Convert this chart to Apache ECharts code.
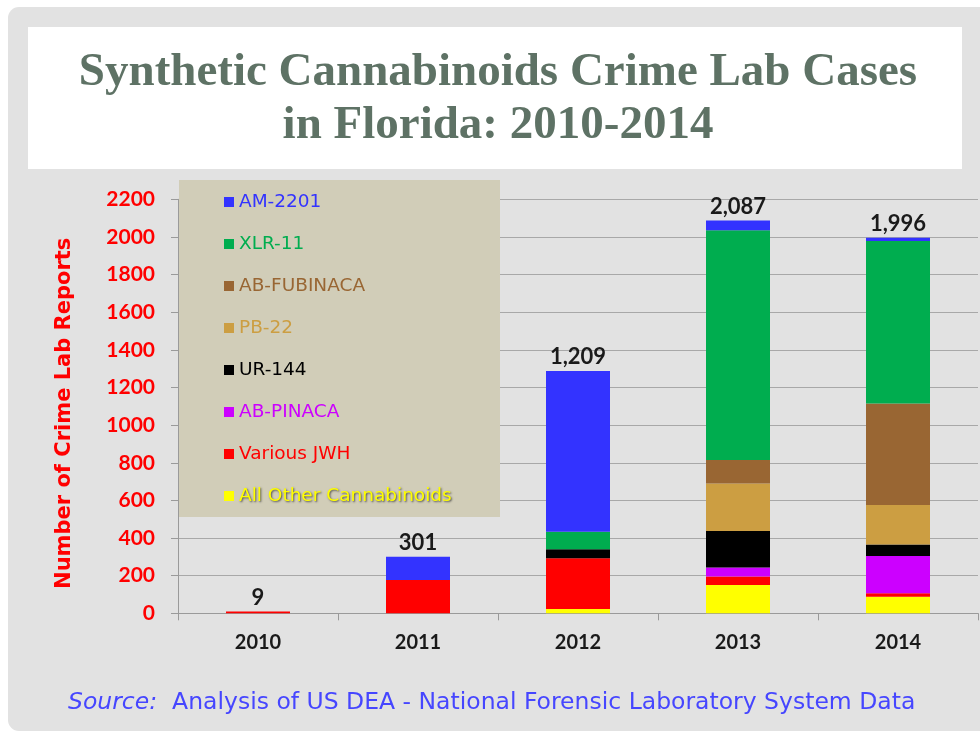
<!DOCTYPE html>
<html>
<head>
<meta charset="utf-8">
<script src="https://cdn.jsdelivr.net/npm/echarts@6/dist/echarts.min.js"></script>
<style>
html,body{margin:0;padding:0;background:#ffffff;}
#chart{width:980px;height:734px;}
</style>
</head>
<body>
<div id="chart"></div>
<script>
var years = ['2010', '2011', '2012', '2013', '2014'];
var allOther   = [0, 0, 23, 150, 88];
var variousJWH = [9, 177, 269, 45, 18];
var abPinaca   = [0, 0, 0, 49, 198];
var ur144      = [0, 0, 48, 193, 62];
var pb22       = [0, 0, 0, 253, 209];
var abFubinaca = [0, 0, 0, 124, 540];
var xlr11      = [0, 0, 94, 1222, 863];
var am2201     = [0, 124, 854, 51, 18];
var totalLabels = [9, 301, 1209, 2087, 1996];
var yTicks = [0, 200, 400, 600, 800, 1000, 1200, 1400, 1600, 1800, 2000, 2200];

var seriesDefs = [
  {name: 'All Other Cannabinoids', data: allOther, color: '#ffff00'},
  {name: 'Various JWH', data: variousJWH, color: '#ff0000'},
  {name: 'AB-PINACA', data: abPinaca, color: '#cc00ff'},
  {name: 'UR-144', data: ur144, color: '#000000'},
  {name: 'PB-22', data: pb22, color: '#cc9e42'},
  {name: 'AB-FUBINACA', data: abFubinaca, color: '#996633'},
  {name: 'XLR-11', data: xlr11, color: '#00ad4f'},
  {name: 'AM-2201', data: am2201, color: '#3333ff'}
];

function fmt(n) { return String(n).replace(/\B(?=(\d{3})+(?!\d))/g, ','); }

var series = seriesDefs.map(function (d, i) {
  var s = {
    name: d.name,
    type: 'bar',
    stack: 'total',
    barWidth: '40%',
    data: d.data,
    itemStyle: {color: d.color},
    emphasis: {disabled: true}
  };
  if (i === seriesDefs.length - 1) {
    s.label = {
      show: true,
      position: 'top',
      distance: 3,
      color: '#1a1a1a',
      fontFamily: 'Lato',
      fontWeight: 'bold',
      fontSize: 22,
      formatter: function (p) { return fmt(totalLabels[p.dataIndex]); }
    };
  }
  return s;
});

var legendData = seriesDefs.slice().reverse().map(function (d) {
  var ts = {color: d.color};
  if (d.name === 'All Other Cannabinoids') {
    ts.textShadowColor = 'rgba(60,60,60,0.9)';
    ts.textShadowBlur = 2;
    ts.textShadowOffsetX = 1;
    ts.textShadowOffsetY = 1;
  }
  return {name: d.name, textStyle: ts};
});

var chart = echarts.init(document.getElementById('chart'));
chart.setOption({
  animation: false,
  backgroundColor: '#ffffff',
  graphic: [
    {type: 'rect', z: -10, shape: {x: 8, y: 7, width: 1000, height: 724, r: 11}, style: {fill: '#e2e2e2'}},
    {type: 'rect', z: -9, shape: {x: 28, y: 27, width: 934, height: 142}, style: {fill: '#ffffff'}},
    {type: 'text', z: -8, style: {text: 'Synthetic Cannabinoids Crime Lab Cases', x: 498, y: 73, textAlign: 'center', textVerticalAlign: 'middle', fontFamily: 'Liberation Serif', fontWeight: 'bold', fontSize: 47, fill: '#5e7265'}},
    {type: 'text', z: -8, style: {text: 'in Florida: 2010-2014', x: 498, y: 126, textAlign: 'center', textVerticalAlign: 'middle', fontFamily: 'Liberation Serif', fontWeight: 'bold', fontSize: 47, fill: '#5e7265'}},
    {type: 'rect', z: 1, shape: {x: 179, y: 180, width: 321, height: 337}, style: {fill: '#d1cdb8'}},
    {type: 'text', z: 5, style: {
      text: '{i|Source:}  Analysis of US DEA - National Forensic Laboratory System Data',
      x: 68, y: 703, textVerticalAlign: 'middle',
      fontFamily: 'DejaVu Sans', fontSize: 23.5, fill: '#4646ff',
      rich: {i: {fontStyle: 'italic', fontFamily: 'DejaVu Sans', fontSize: 23.5, fill: '#4646ff', color: '#4646ff'}}
    }}
  ],
  legend: {
    orient: 'vertical',
    left: 224,
    top: 192,
    padding: 0,
    itemWidth: 10,
    itemHeight: 10,
    itemGap: 22,
    icon: 'rect',
    selectedMode: false,
    textStyle: {fontFamily: 'DejaVu Sans', fontSize: 18.5, lineHeight: 20},
    data: legendData
  },
  grid: {left: 178, right: 2, top: 199.3, bottom: 120.7, containLabel: false},
  xAxis: {
    type: 'category',
    data: years,
    axisLine: {lineStyle: {color: '#9a9a9a', width: 1}},
    axisTick: {show: true, length: 7, lineStyle: {color: '#9a9a9a'}},
    axisLabel: {color: '#1a1a1a', fontFamily: 'Lato', fontWeight: 'bold', fontSize: 20, margin: 19}
  },
  yAxis: {
    type: 'value',
    min: 0,
    max: 2200,
    interval: 200,
    name: 'Number of Crime Lab Reports',
    nameLocation: 'middle',
    nameGap: 103,
    nameTextStyle: {color: '#ff0000', fontFamily: 'DejaVu Sans', fontWeight: 'bold', fontSize: 21, padding: [0, 14, 0, 0]},
    axisLine: {show: true, lineStyle: {color: '#9a9a9a', width: 1}},
    axisTick: {show: true, length: 7, lineStyle: {color: '#9a9a9a'}},
    splitLine: {lineStyle: {color: '#a8a8a8', width: 1}},
    axisLabel: {
      color: '#ff0000', fontFamily: 'Lato', fontWeight: 'bold', fontSize: 21, margin: 23,
      formatter: function (v) { return yTicks.indexOf(v) >= 0 ? String(v) : ''; }
    }
  },
  series: series
});
</script>
</body>
</html>
